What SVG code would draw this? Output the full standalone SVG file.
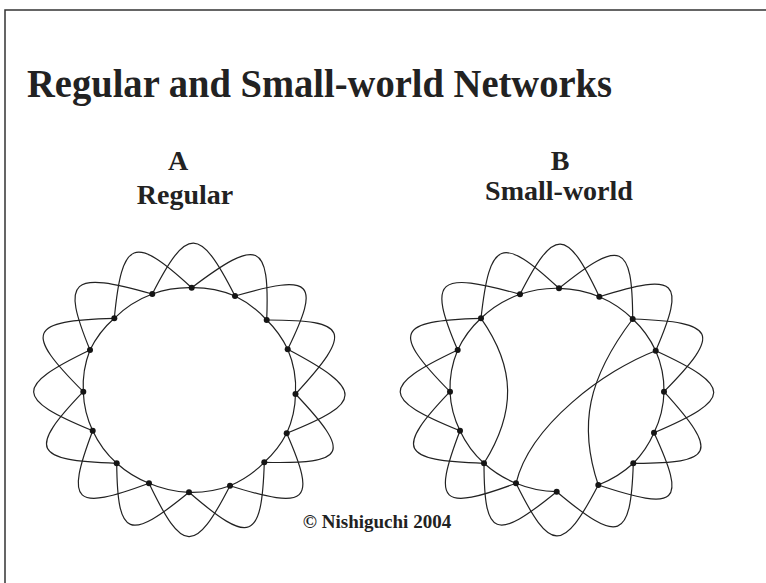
<svg xmlns="http://www.w3.org/2000/svg" width="766" height="583" viewBox="0 0 766 583">
<style>
.frame{fill:none;stroke:#333;stroke-width:1.5}
.edge{fill:none;stroke:#222;stroke-width:1.2}
.node{fill:#151515}
.t{font-family:"Liberation Serif","Times New Roman",serif;font-weight:bold;fill:#222}
</style>
<rect width="766" height="583" fill="#fff"/>
<path class="frame" d="M5,583 V10 H766"/>
<text class="t" x="27" y="97" font-size="39" textLength="585" lengthAdjust="spacingAndGlyphs">Regular and Small-world Networks</text>
<text class="t" x="178" y="170" font-size="28" text-anchor="middle">A</text>
<text class="t" x="185" y="204" font-size="28" text-anchor="middle">Regular</text>
<text class="t" x="560" y="170" font-size="28" text-anchor="middle">B</text>
<text class="t" x="559" y="200" font-size="28" text-anchor="middle">Small-world</text>
<text class="t" x="377" y="528" font-size="19" text-anchor="middle">© Nishiguchi 2004</text>
<g id="connectors">
<g id="A-edges">
<path class="edge" d="M191.7,287.7 A106,102 0 0 1 235,296"/>
<path class="edge" d="M235,296 A106,102 0 0 1 266.7,320"/>
<path class="edge" d="M266.7,320 A106,102 0 0 1 287.7,349.3"/>
<path class="edge" d="M287.7,349.3 A106,102 0 0 1 295.5,394"/>
<path class="edge" d="M295.5,394 A106,102 0 0 1 286.7,433.3"/>
<path class="edge" d="M286.7,433.3 A106,102 0 0 1 264.3,462.3"/>
<path class="edge" d="M264.3,462.3 A106,102 0 0 1 230,485.7"/>
<path class="edge" d="M230,485.7 A106,102 0 0 1 189,492.3"/>
<path class="edge" d="M189,492.3 A106,102 0 0 1 149,483.3"/>
<path class="edge" d="M149,483.3 A106,102 0 0 1 116.7,463.3"/>
<path class="edge" d="M116.7,463.3 A106,102 0 0 1 92.7,430.7"/>
<path class="edge" d="M92.7,430.7 A106,102 0 0 1 83.3,391.7"/>
<path class="edge" d="M83.3,391.7 A106,102 0 0 1 90,350"/>
<path class="edge" d="M90,350 A106,102 0 0 1 114.3,318.3"/>
<path class="edge" d="M114.3,318.3 A106,102 0 0 1 152.3,294"/>
<path class="edge" d="M152.3,294 A106,102 0 0 1 191.7,287.7"/>
<path class="edge" d="M152.3,294 C187.2,225.8 199.6,226.1 235,296"/>
<path class="edge" d="M191.7,287.7 C258.6,237 269.8,241.8 266.7,320"/>
<path class="edge" d="M235,296 C313,273.4 320.9,281.4 287.7,349.3"/>
<path class="edge" d="M266.7,320 C349.4,319.9 353.7,331 295.5,394"/>
<path class="edge" d="M287.7,349.3 C364.4,389.8 364.2,402.4 286.7,433.3"/>
<path class="edge" d="M295.5,394 C352.2,454 347.5,464.2 264.3,462.3"/>
<path class="edge" d="M286.7,433.3 C317,502.4 308.5,510.3 230,485.7"/>
<path class="edge" d="M264.3,462.3 C261.8,541 250.6,545.5 189,492.3"/>
<path class="edge" d="M230,485.7 C194.8,554.3 182.7,553.9 149,483.3"/>
<path class="edge" d="M189,492.3 C128.4,542 117.5,537.7 116.7,463.3"/>
<path class="edge" d="M149,483.3 C73.6,511.4 65.1,503.5 92.7,430.7"/>
<path class="edge" d="M116.7,463.3 C32.4,460.6 27.4,449.9 83.3,391.7"/>
<path class="edge" d="M92.7,430.7 C14.6,398.6 14.2,386.5 90,350"/>
<path class="edge" d="M83.3,391.7 C23.3,331.7 27.9,320.6 114.3,318.3"/>
<path class="edge" d="M90,350 C60.9,279 70.2,270.6 152.3,294"/>
<path class="edge" d="M114.3,318.3 C122,238.6 133.7,234.1 191.7,287.7"/>
</g>
<g id="B-edges">
<path class="edge" d="M559,288.3 A106,102 0 0 1 599.3,296.7"/>
<path class="edge" d="M599.3,296.7 A106,102 0 0 1 632.7,319"/>
<path class="edge" d="M632.7,319 A106,102 0 0 1 655.7,350.7"/>
<path class="edge" d="M655.7,350.7 A106,102 0 0 1 664,391.7"/>
<path class="edge" d="M664,391.7 A106,102 0 0 1 654,432.7"/>
<path class="edge" d="M654,432.7 A106,102 0 0 1 633.3,463.3"/>
<path class="edge" d="M633.3,463.3 A106,102 0 0 1 598.3,485"/>
<path class="edge" d="M556.7,491.7 A106,102 0 0 1 516,483.3"/>
<path class="edge" d="M516,483.3 A106,102 0 0 1 484,463.3"/>
<path class="edge" d="M484,463.3 A106,102 0 0 1 460,430.7"/>
<path class="edge" d="M460,430.7 A106,102 0 0 1 450,391.7"/>
<path class="edge" d="M450,391.7 A106,102 0 0 1 457.7,350"/>
<path class="edge" d="M457.7,350 A106,102 0 0 1 481,318.3"/>
<path class="edge" d="M481,318.3 A106,102 0 0 1 520,294.3"/>
<path class="edge" d="M520,294.3 A106,102 0 0 1 559,288.3"/>
<path class="edge" d="M520,294.3 C554.5,226.8 566.4,227.1 599.3,296.7"/>
<path class="edge" d="M559,288.3 C621.3,238.1 632.3,242.7 632.7,319"/>
<path class="edge" d="M599.3,296.7 C677.7,272 686.2,280.1 655.7,350.7"/>
<path class="edge" d="M632.7,319 C717.4,321.9 722.1,332.8 664,391.7"/>
<path class="edge" d="M655.7,350.7 C733.5,386.6 733.2,398.9 654,432.7"/>
<path class="edge" d="M664,391.7 C719.6,452.9 715,463.6 633.3,463.3"/>
<path class="edge" d="M654,432.7 C686.8,503.8 678.5,511.7 598.3,485"/>
<path class="edge" d="M633.3,463.3 C630.8,540.1 619.3,544.4 556.7,491.7"/>
<path class="edge" d="M598.3,485 C562.8,553.2 550.4,552.9 516,483.3"/>
<path class="edge" d="M556.7,491.7 C495,542 484.1,537.7 484,463.3"/>
<path class="edge" d="M516,483.3 C440.5,511.4 432.1,503.5 460,430.7"/>
<path class="edge" d="M484,463.3 C399.5,460.6 394.4,449.9 450,391.7"/>
<path class="edge" d="M460,430.7 C380.8,398.6 380.5,386.5 457.7,350"/>
<path class="edge" d="M450,391.7 C391,331.7 395.7,320.7 481,318.3"/>
<path class="edge" d="M457.7,350 C427.3,279 436.6,270.7 520,294.3"/>
<path class="edge" d="M481,318.3 C489.7,239.1 501.4,234.6 559,288.3"/>
<path class="edge" d="M481,318.3 C516,368 516,412 484,463.3"/>
<path class="edge" d="M655.7,350.7 C605,370 530,425 516,483.3"/>
<path class="edge" d="M632.7,319 C588,378 578,425 598.3,485"/>
</g>
</g>
<g id="A-nodes">
<g id="A-n0"><circle class="node" cx="191.7" cy="287.7" r="3"/></g>
<g id="A-n1"><circle class="node" cx="235" cy="296" r="3"/></g>
<g id="A-n2"><circle class="node" cx="266.7" cy="320" r="3"/></g>
<g id="A-n3"><circle class="node" cx="287.7" cy="349.3" r="3"/></g>
<g id="A-n4"><circle class="node" cx="295.5" cy="394" r="3"/></g>
<g id="A-n5"><circle class="node" cx="286.7" cy="433.3" r="3"/></g>
<g id="A-n6"><circle class="node" cx="264.3" cy="462.3" r="3"/></g>
<g id="A-n7"><circle class="node" cx="230" cy="485.7" r="3"/></g>
<g id="A-n8"><circle class="node" cx="189" cy="492.3" r="3"/></g>
<g id="A-n9"><circle class="node" cx="149" cy="483.3" r="3"/></g>
<g id="A-n10"><circle class="node" cx="116.7" cy="463.3" r="3"/></g>
<g id="A-n11"><circle class="node" cx="92.7" cy="430.7" r="3"/></g>
<g id="A-n12"><circle class="node" cx="83.3" cy="391.7" r="3"/></g>
<g id="A-n13"><circle class="node" cx="90" cy="350" r="3"/></g>
<g id="A-n14"><circle class="node" cx="114.3" cy="318.3" r="3"/></g>
<g id="A-n15"><circle class="node" cx="152.3" cy="294" r="3"/></g>
</g>
<g id="B-nodes">
<g id="B-n0"><circle class="node" cx="559" cy="288.3" r="3"/></g>
<g id="B-n1"><circle class="node" cx="599.3" cy="296.7" r="3"/></g>
<g id="B-n2"><circle class="node" cx="632.7" cy="319" r="3"/></g>
<g id="B-n3"><circle class="node" cx="655.7" cy="350.7" r="3"/></g>
<g id="B-n4"><circle class="node" cx="664" cy="391.7" r="3"/></g>
<g id="B-n5"><circle class="node" cx="654" cy="432.7" r="3"/></g>
<g id="B-n6"><circle class="node" cx="633.3" cy="463.3" r="3"/></g>
<g id="B-n7"><circle class="node" cx="598.3" cy="485" r="3"/></g>
<g id="B-n8"><circle class="node" cx="556.7" cy="491.7" r="3"/></g>
<g id="B-n9"><circle class="node" cx="516" cy="483.3" r="3"/></g>
<g id="B-n10"><circle class="node" cx="484" cy="463.3" r="3"/></g>
<g id="B-n11"><circle class="node" cx="460" cy="430.7" r="3"/></g>
<g id="B-n12"><circle class="node" cx="450" cy="391.7" r="3"/></g>
<g id="B-n13"><circle class="node" cx="457.7" cy="350" r="3"/></g>
<g id="B-n14"><circle class="node" cx="481" cy="318.3" r="3"/></g>
<g id="B-n15"><circle class="node" cx="520" cy="294.3" r="3"/></g>
</g>
</svg>
